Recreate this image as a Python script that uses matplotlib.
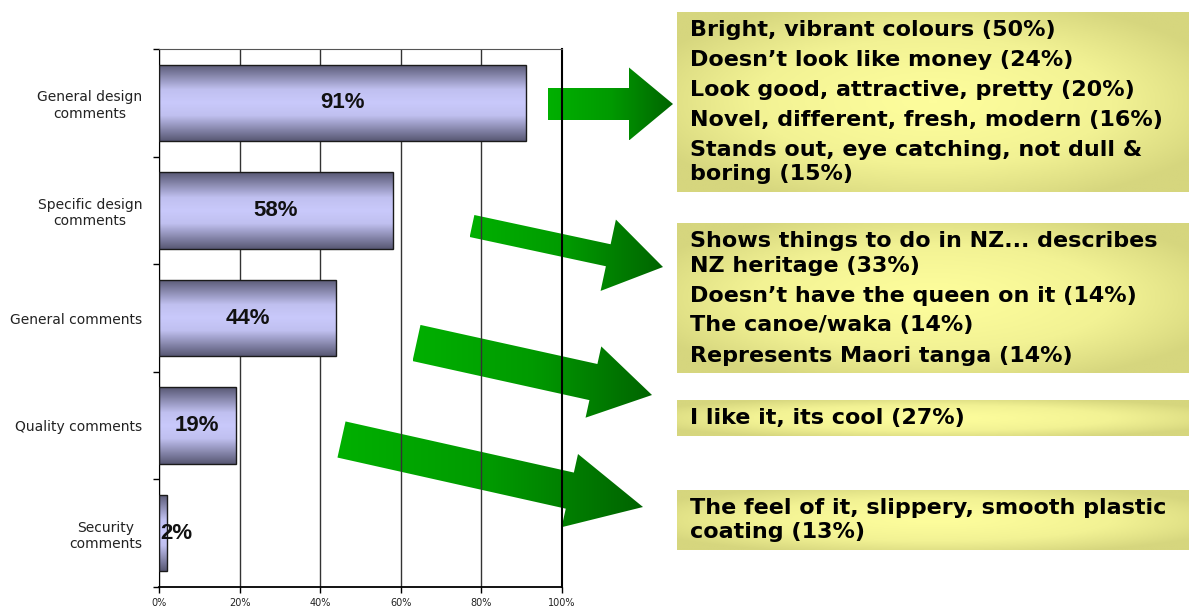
from __future__ import annotations

import matplotlib

matplotlib.use("Agg")

import matplotlib.pyplot as plt
import numpy as np
from matplotlib.colors import LinearSegmentedColormap
from matplotlib.patches import FancyArrow, Rectangle

# chart data
categories = [
    "General design\ncomments",
    "Specific design\ncomments",
    "General comments",
    "Quality comments",
    "Security\ncomments",
]
values = [91, 58, 44, 19, 2]
x_ticks = [0, 20, 40, 60, 80, 100]

# call-out texts
design_reasons = [
    "Bright, vibrant colours (50%)",
    "Doesn\u2019t look like money (24%)",
    "Look good, attractive, pretty (20%)",
    "Novel, different, fresh, modern (16%)",
    "Stands out, eye catching, not dull &\nboring (15%)",
]
specific_reasons = [
    "Shows things to do in NZ... describes\nNZ heritage (33%)",
    "Doesn\u2019t have the queen on it (14%)",
    "The canoe/waka (14%)",
    "Represents Maori tanga (14%)",
]
quality_reasons = ["I like it, its cool (27%)"]
security_reasons = ["The feel of it, slippery, smooth plastic\ncoating (13%)"]

W, H = 1189, 607

BAR_CMAP = LinearSegmentedColormap.from_list(
    "bar",
    [(0, "#585874"), (0.33, "#c0c0f0"), (0.5, "#c9c9fb"), (0.67, "#c0c0f0"), (1, "#585874")],
)
BOX_CMAP = LinearSegmentedColormap.from_list("box", ["#fdfd9c", "#f2f294", "#d6d67e"])
ARROW_CMAP = LinearSegmentedColormap.from_list("arrow", ["#00b000", "#009a00", "#006400"])

fig = plt.figure(figsize=(W / 100, H / 100), dpi=100, facecolor="white")

# pixel-space layer behind the chart (the grid lines run over the arrows)
ov = fig.add_axes([0, 0, 1, 1], zorder=0)
ov.set_xlim(0, W)
ov.set_ylim(H, 0)
ov.axis("off")

ax = fig.add_axes([159 / W, (H - 587) / H, 403 / W, 538 / H], zorder=1)
ax.patch.set_alpha(0)

# --- bars -------------------------------------------------------------
ypos = np.arange(len(categories))
bars = ax.barh(ypos, values, height=0.71, facecolor="none", edgecolor="#1a1a1a",
               linewidth=1.0, zorder=3)
grad = np.linspace(0, 1, 128)[:, None]
for bar in bars:
    x0, y0 = bar.get_x(), bar.get_y()
    im = ax.imshow(grad, cmap=BAR_CMAP, aspect="auto", zorder=2,
                   extent=[x0, x0 + bar.get_width(), y0 + bar.get_height(), y0])
    im.set_clip_path(bar)

for i, v in enumerate(values):
    ax.text(max(v / 2, 4.4), i, f"{v}%", ha="center", va="center", fontsize=16,
            fontweight="bold", family=["Liberation Sans Narrow", "Liberation Sans"],
            color="#111111", zorder=4)

ax.set_xlim(0, 100)
ax.set_ylim(len(categories) - 0.5, -0.5)
ax.set_xticks(x_ticks)
ax.set_xticklabels([f"{t}%" for t in x_ticks])
ax.set_yticks(ypos)
ax.set_yticklabels(categories)
for lbl in ax.get_yticklabels():
    lbl.set_multialignment("center")
ax.set_yticks(np.arange(-0.5, len(categories)), minor=True)
ax.tick_params(axis="y", which="major", length=0, pad=12, labelsize=10, labelcolor="#222222")
ax.tick_params(axis="y", which="minor", length=4, width=1, direction="out")
ax.tick_params(axis="x", length=4, width=1, pad=4, labelsize=7, labelcolor="#222222")
ax.xaxis.grid(True, color="#333333", linewidth=1)
ax.set_axisbelow(True)
ax.spines["top"].set_color("#555555")
ax.spines["right"].set_linewidth(1.5)
ax.spines["bottom"].set_linewidth(1.3)

# --- call-out boxes ---------------------------------------------------
def draw_box(top, items):
    lines = []
    y = top + 24
    for item in items:
        for j, line in enumerate(item.split("\n")):
            if lines:
                y += 24.5 if j else 30
            lines.append((line, y))
    bottom = y + 12
    rect = Rectangle((677, top), W - 677, bottom - top, facecolor="none", edgecolor="none")
    ov.add_patch(rect)
    gx, gy = np.meshgrid(np.linspace(-1, 1, 300), np.linspace(-1, 1, 80))
    g = np.clip(np.sqrt(gx ** 2 + gy ** 2) / 1.2, 0, 1) ** 1.3
    im = ov.imshow(g, cmap=BOX_CMAP, aspect="auto", zorder=1,
                   extent=[677, W, bottom, top])
    im.set_clip_path(rect)
    for line, yb in lines:
        ov.text(690, yb, line, ha="left", va="baseline", fontsize=16,
                fontweight="bold", color="#000000", zorder=3)


draw_box(12, design_reasons)
draw_box(223, specific_reasons)
draw_box(400, quality_reasons)
draw_box(490, security_reasons)

# --- arrows (tail, tip, shaft width, head width, head length) in pixels
arrows = [
    ((548, 104), (673, 104), 32, 73, 44),
    ((472, 226), (663, 267), 22.5, 73, 56),
    ((416.5, 343), (652, 395), 37, 73, 60),
    ((341.5, 439.5), (643, 507), 37, 75, 75),
]
for (x0, y0), (x1, y1), w, hw, hl in arrows:
    arr = FancyArrow(x0, y0, x1 - x0, y1 - y0, width=w, head_width=hw, head_length=hl,
                     length_includes_head=True, facecolor="none", edgecolor="none")
    ov.add_patch(arr)
    verts = arr.get_xy()
    xmin, ymin = verts.min(axis=0)
    xmax, ymax = verts.max(axis=0)
    im = ov.imshow(np.linspace(0, 1, 256)[None, :], cmap=ARROW_CMAP, aspect="auto",
                   zorder=1, extent=[xmin, xmax, ymax, ymin])
    im.set_clip_path(arr)

ov.set_xlim(0, W)
ov.set_ylim(H, 0)
ax.set_xlim(0, 100)
ax.set_ylim(len(categories) - 0.5, -0.5)

fig.savefig("out.png", dpi=100)
